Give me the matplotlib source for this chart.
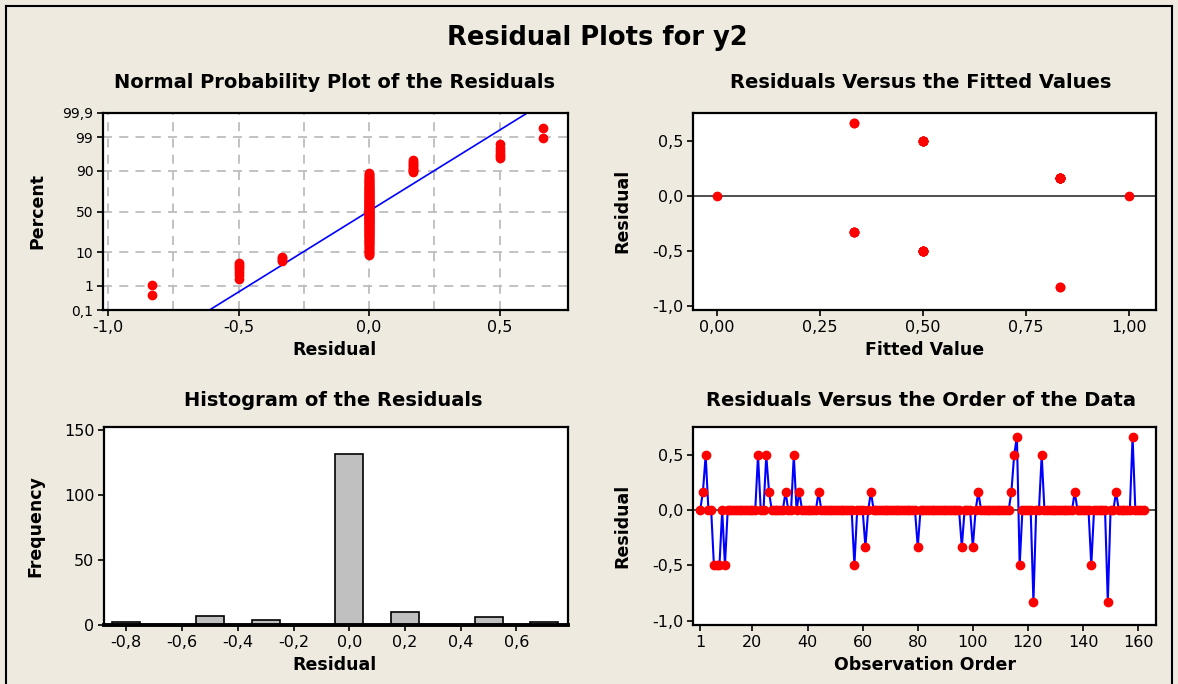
import numpy as np
import matplotlib
matplotlib.use('Agg')
import matplotlib.pyplot as plt
from matplotlib.lines import Line2D
from statistics import NormalDist

# --- data ---
n_obs = 162
# residual levels and the observations that carry them (all others are 0)
res_levels = [1/6, 0.5, 2/3, -0.5, -1/3, -5/6]
res_obs = [
    [2, 26, 32, 37, 44, 63, 102, 114, 137, 152],
    [3, 22, 25, 35, 115, 125],
    [116, 158],
    [6, 7, 8, 10, 57, 117, 143],
    [61, 80, 96, 100],
    [122, 149],
]
zero_fits = [0.0, 1.0]              # fitted values where residual = 0
pct_ticks = [0.1, 1, 10, 50, 90, 99, 99.9]
pct_labels = ['0,1', '1', '10', '50', '90', '99', '99,9']
hist_edges = np.linspace(-0.85, 0.75, 17)
order_ticks = [1, 20, 40, 60, 80, 100, 120, 140, 160]

# residuals in observation order
obs = np.arange(1, n_obs + 1)
resid = np.zeros(n_obs)
for lev, idx in zip(res_levels, res_obs):
    resid[np.array(idx) - 1] = lev

W, H = 1178, 684
BG = '#eeeae0'
fig = plt.figure(figsize=(W / 100, H / 100), dpi=100, facecolor=BG)


def add_ax(x0, y0, x1, y1):
    ax = fig.add_axes([x0 / W, 1 - y1 / H, (x1 - x0) / W, (y1 - y0) / H])
    for s in ax.spines.values():
        s.set_linewidth(1.6)
        s.set_color('black')
    ax.tick_params(direction='out', length=4, width=1.2, labelsize=11.5,
                   top=False, right=False, pad=3)
    return ax


def ftext(x, y, s, **kw):
    fig.text(x / W, 1 - y / H, s, ha='center', va='center', **kw)


def comma(fmt):
    return lambda v, p: fmt.format(round(v, 6) + 0.0).replace('.', ',')


# figure frame
for xs, ys in [([6, 6], [6, 684]), ([6, 1172], [6, 6]), ([1172, 1172], [6, 684])]:
    fig.add_artist(Line2D([x / W for x in xs], [1 - y / H for y in ys],
                          color='black', lw=1.5))

ftext(597, 38, 'Residual Plots for y2', fontsize=18.5, fontweight='bold')

red = '#ff0000'
blue = '#0000ff'

# ---- normal probability plot ----
ax1 = add_ax(103, 113, 568, 310)
nd = NormalDist()
r_sorted = np.sort(resid)
p = (np.arange(1, n_obs + 1) - 0.3) / (n_obs + 0.4)
z = np.array([nd.inv_cdf(v) for v in p])
zlim = nd.inv_cdf(0.999)
mu, sd = resid.mean(), resid.std(ddof=1)
for gx in [-1.0, -0.75, -0.5, -0.25, 0.0, 0.25, 0.5]:
    ax1.axvline(gx, color='#bdbdbd', lw=1.3, ls=(0, (5, 4)), zorder=0)
for gy in [1, 10, 50, 90, 99]:
    ax1.axhline(nd.inv_cdf(gy / 100), color='#bdbdbd', lw=1.3, ls=(0, (5, 4)), zorder=0)
zz = np.array([-zlim, zlim])
ax1.plot(mu + sd * zz, zz, color=blue, lw=1.2, zorder=2)
ax1.plot(r_sorted, z, 'o', color=red, ms=6, mec=red, zorder=3)
ax1.set_xlim(-1.02, 0.762)
ax1.set_ylim(-zlim, zlim)
ax1.set_xticks([-1.0, -0.5, 0.0, 0.5])
ax1.xaxis.set_major_formatter(comma('{:.1f}'))
ax1.set_yticks([nd.inv_cdf(v / 100) for v in pct_ticks])
ax1.set_yticklabels(pct_labels)
ax1.tick_params(axis='y', labelsize=10)
ftext(335, 83, 'Normal Probability Plot of the Residuals', fontsize=14, fontweight='bold')
ftext(335, 350, 'Residual', fontsize=12.5, fontweight='bold')
ftext(37, 211, 'Percent', fontsize=12.5, fontweight='bold', rotation=90)

# ---- residuals vs fits ----
ax2 = add_ax(693, 113, 1156, 310)
nz = resid != 0
fits = np.where(resid[nz] > 0, 1 - resid[nz], -resid[nz])
ax2.axhline(0, color='#404040', lw=1.3, zorder=1)
ax2.plot(fits, resid[nz], 'o', color=red, mec=red, ms=6, zorder=3)
ax2.plot(zero_fits, [0] * len(zero_fits), 'o', color=red, mec=red, ms=6, zorder=3)
ax2.set_xlim(-0.057, 1.065)
ax2.set_ylim(-1.04, 0.755)
ax2.set_xticks([0, 0.25, 0.5, 0.75, 1.0])
ax2.xaxis.set_major_formatter(comma('{:.2f}'))
ax2.set_yticks([-1.0, -0.5, 0.0, 0.5])
ax2.yaxis.set_major_formatter(comma('{:.1f}'))
ftext(921, 83, 'Residuals Versus the Fitted Values', fontsize=14, fontweight='bold')
ftext(925, 350, 'Fitted Value', fontsize=12.5, fontweight='bold')
ftext(622, 211, 'Residual', fontsize=12.5, fontweight='bold', rotation=90)

# ---- histogram ----
ax3 = add_ax(104, 427, 568, 625)
counts, edges = np.histogram(resid, bins=hist_edges)
centers = (edges[:-1] + edges[1:]) / 2
ax3.bar(centers, counts, width=0.1, color='#c0c0c0', edgecolor='black', lw=1.2)
ax3.spines['bottom'].set_linewidth(2.8)
ax3.set_xlim(-0.88, 0.785)
ax3.set_ylim(0, 152)
ax3.set_xticks(np.arange(-0.8, 0.61, 0.2))
ax3.xaxis.set_major_formatter(comma('{:.1f}'))
ax3.set_yticks([0, 50, 100, 150])
ftext(333, 401, 'Histogram of the Residuals', fontsize=14, fontweight='bold')
ftext(335, 665, 'Residual', fontsize=12.5, fontweight='bold')
ftext(35, 526, 'Frequency', fontsize=12.5, fontweight='bold', rotation=90)

# ---- residuals vs order ----
ax4 = add_ax(693, 427, 1156, 625)
ax4.axhline(0, color='#404040', lw=1.3, zorder=1)
ax4.plot(obs, resid, color=blue, lw=1.5, marker='o', mfc=red, mec=red, ms=6, zorder=2)
ax4.set_xlim(-1.6, 166.5)
ax4.set_ylim(-1.04, 0.755)
ax4.set_xticks(order_ticks)
ax4.set_yticks([-1.0, -0.5, 0.0, 0.5])
ax4.yaxis.set_major_formatter(comma('{:.1f}'))
ftext(921, 401, 'Residuals Versus the Order of the Data', fontsize=14, fontweight='bold')
ftext(925, 665, 'Observation Order', fontsize=12.5, fontweight='bold')
ftext(622, 526, 'Residual', fontsize=12.5, fontweight='bold', rotation=90)

fig.savefig('out.png', dpi=100, facecolor=BG)
